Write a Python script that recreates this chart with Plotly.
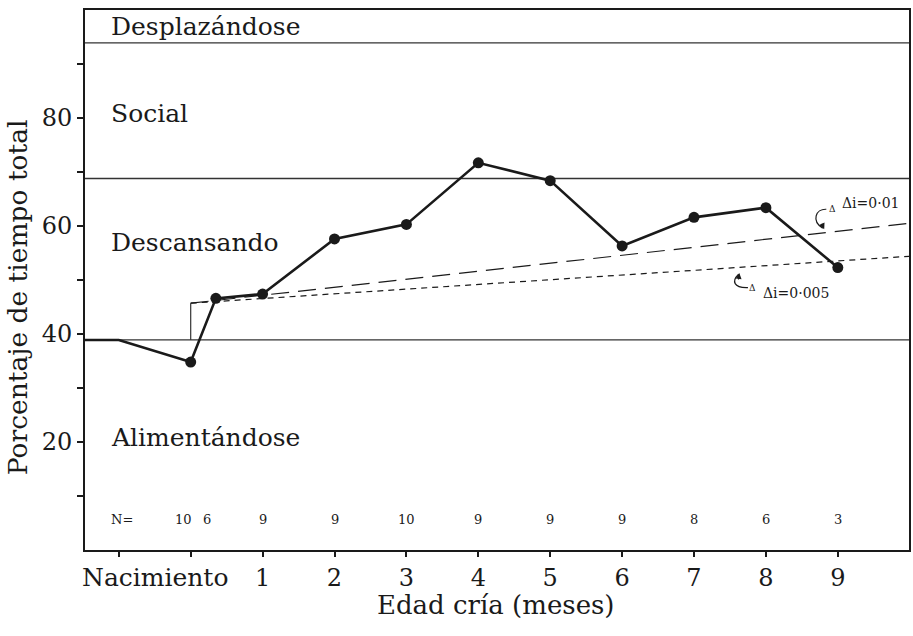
import plotly.graph_objects as go

# Mean percentage of time spent resting, by calf age (months)
age_months = [0, 0.35, 1, 2, 3, 4, 5, 6, 7, 8, 9]
resting_pct = [34.8, 46.6, 47.4, 57.6, 60.3, 71.7, 68.4, 56.3, 61.6, 63.4, 52.3]

# Pre-birth level (before the calf is born)
prebirth_months = [-1.5, -1]
prebirth_pct = [38.9, 38.9]

# Activity budget boundaries (cumulative %)
feeding_top = 38.9
resting_top = 68.8
social_top = 93.9

# Expected resting trends after birth
trend_start = 45.7
trend_months = [0, 10]
trend_001 = [45.7, 60.5]
trend_0005 = [45.7, 54.4]

# Sample sizes per age
n_labels = ["10", "6", "9", "9", "10", "9", "9", "9", "8", "6", "3"]
n_positions = [-0.1, 0.23, 1, 2, 3, 4, 5, 6, 7, 8, 9]

x_ticks = [-1, 0, 1, 2, 3, 4, 5, 6, 7, 8, 9]
x_ticktext = ["", "", "1", "2", "3", "4", "5", "6", "7", "8", "9"]
y_ticks = [10, 20, 30, 40, 50, 60, 70, 80, 90]
y_ticktext = ["", "20", "", "40", "", "60", "", "80", ""]

region_names = ["Desplazándose", "Social", "Descansando", "Alimentándose"]
region_label_y = [96.9, 80.9, 57.0, 20.9]

SERIF = "DejaVu Serif"
INK = "#1a1a1a"
X_MIN, X_MAX = -1.47, 9.99

fig = go.Figure()

# Boundary lines between activities
for level in [feeding_top, resting_top, social_top]:
    fig.add_trace(go.Scatter(x=[X_MIN, X_MAX], y=[level, level], mode="lines",
                             line=dict(color="#333333", width=1.3),
                             hoverinfo="skip", showlegend=False))

# Step at birth up to the trend start
fig.add_trace(go.Scatter(x=[0, 0], y=[feeding_top, trend_start], mode="lines",
                         line=dict(color="#333333", width=1.2),
                         hoverinfo="skip", showlegend=False))

# Trend lines
fig.add_trace(go.Scatter(x=trend_months, y=trend_001, mode="lines",
                         line=dict(color=INK, width=1.2, dash="18px,9px"),
                         showlegend=False))
fig.add_trace(go.Scatter(x=trend_months, y=trend_0005, mode="lines",
                         line=dict(color=INK, width=1.2, dash="6px,5px"),
                         showlegend=False))

# Pre-birth segment joining the first observation
fig.add_trace(go.Scatter(x=prebirth_months + [age_months[0]],
                         y=prebirth_pct + [resting_pct[0]], mode="lines",
                         line=dict(color=INK, width=2.6), showlegend=False))

# Observed resting percentage
fig.add_trace(go.Scatter(x=age_months, y=resting_pct, mode="lines+markers",
                         line=dict(color=INK, width=2.6),
                         marker=dict(color=INK, size=11),
                         showlegend=False))

annotations = []

# Activity names
for name, yv in zip(region_names, region_label_y):
    annotations.append(dict(x=0.029, xref="paper", y=yv, yref="y", text=name,
                            showarrow=False, xanchor="left", yanchor="middle",
                            font=dict(family=SERIF, size=25, color=INK)))

# Sample sizes
annotations.append(dict(x=-0.96, y=5.6, text="N=", showarrow=False,
                        font=dict(family=SERIF, size=13, color=INK)))
for lab, xp in zip(n_labels, n_positions):
    annotations.append(dict(x=xp, y=5.6, text=lab, showarrow=False,
                            font=dict(family=SERIF, size=13, color=INK)))

# Trend labels
annotations.append(dict(x=9.46, y=64.3, text="Δi=0·01", showarrow=False,
                        font=dict(family=SERIF, size=14, color=INK)))
annotations.append(dict(x=8.42, y=47.6, text="Δi=0·005", showarrow=False,
                        font=dict(family=SERIF, size=14, color=INK)))
annotations.append(dict(x=8.93, y=63.1, text="Δ", showarrow=False,
                        font=dict(family=SERIF, size=9, color=INK)))
annotations.append(dict(x=7.82, y=48.5, text="Δ", showarrow=False,
                        font=dict(family=SERIF, size=9, color=INK)))

# Arrow heads of the curved pointers
annotations.append(dict(x=8.81, y=59.4, ax=-3, ay=-7, text="", showarrow=True,
                        arrowhead=2, arrowsize=1, arrowwidth=1.2, arrowcolor=INK))
annotations.append(dict(x=7.63, y=51.3, ax=-1, ay=8, text="", showarrow=True,
                        arrowhead=2, arrowsize=1, arrowwidth=1.2, arrowcolor=INK))

# Axis titles and the birth label
annotations.append(dict(x=-0.5, y=-0.05, xref="x", yref="paper", text="Nacimiento",
                        showarrow=False, yanchor="middle",
                        font=dict(family=SERIF, size=25, color=INK)))
annotations.append(dict(x=0.4988, y=-0.102, xref="paper", yref="paper",
                        text="Edad cría (meses)", showarrow=False, yanchor="middle",
                        font=dict(family=SERIF, size=26, color=INK)))
annotations.append(dict(x=-0.0823, y=0.4685, xref="paper", yref="paper",
                        text="Porcentaje de tiempo total", showarrow=False,
                        textangle=-90, xanchor="center", yanchor="middle",
                        font=dict(family=SERIF, size=26.5, color=INK)))

# Curved pointer stems
shapes = [
    dict(type="path", xref="x", yref="y",
         path="M 8.84,63.1 C 8.69,63.2 8.63,60.9 8.79,59.6",
         line=dict(color=INK, width=1.2)),
    dict(type="path", xref="x", yref="y",
         path="M 7.75,48.6 C 7.55,48.5 7.52,49.8 7.62,51.1",
         line=dict(color=INK, width=1.2)),
]

fig.update_layout(
    width=913, height=636,
    margin=dict(l=85, r=2, t=10, b=86),
    paper_bgcolor="white", plot_bgcolor="white",
    annotations=annotations, shapes=shapes,
    xaxis=dict(range=[X_MIN, X_MAX], tickvals=x_ticks, ticktext=x_ticktext,
               ticks="outside", ticklen=5, tickwidth=1.5, tickcolor=INK,
               showline=True, linewidth=2, linecolor=INK, mirror=True,
               showgrid=False, zeroline=False,
               tickfont=dict(family=SERIF, size=24, color=INK)),
    yaxis=dict(range=[0, 100], tickvals=y_ticks, ticktext=y_ticktext,
               ticks="outside", ticklen=6, tickwidth=1.5, tickcolor=INK,
               showline=True, linewidth=2, linecolor=INK, mirror=True,
               showgrid=False, zeroline=False,
               tickfont=dict(family=SERIF, size=24, color=INK)),
)

fig.write_html("out.html")
